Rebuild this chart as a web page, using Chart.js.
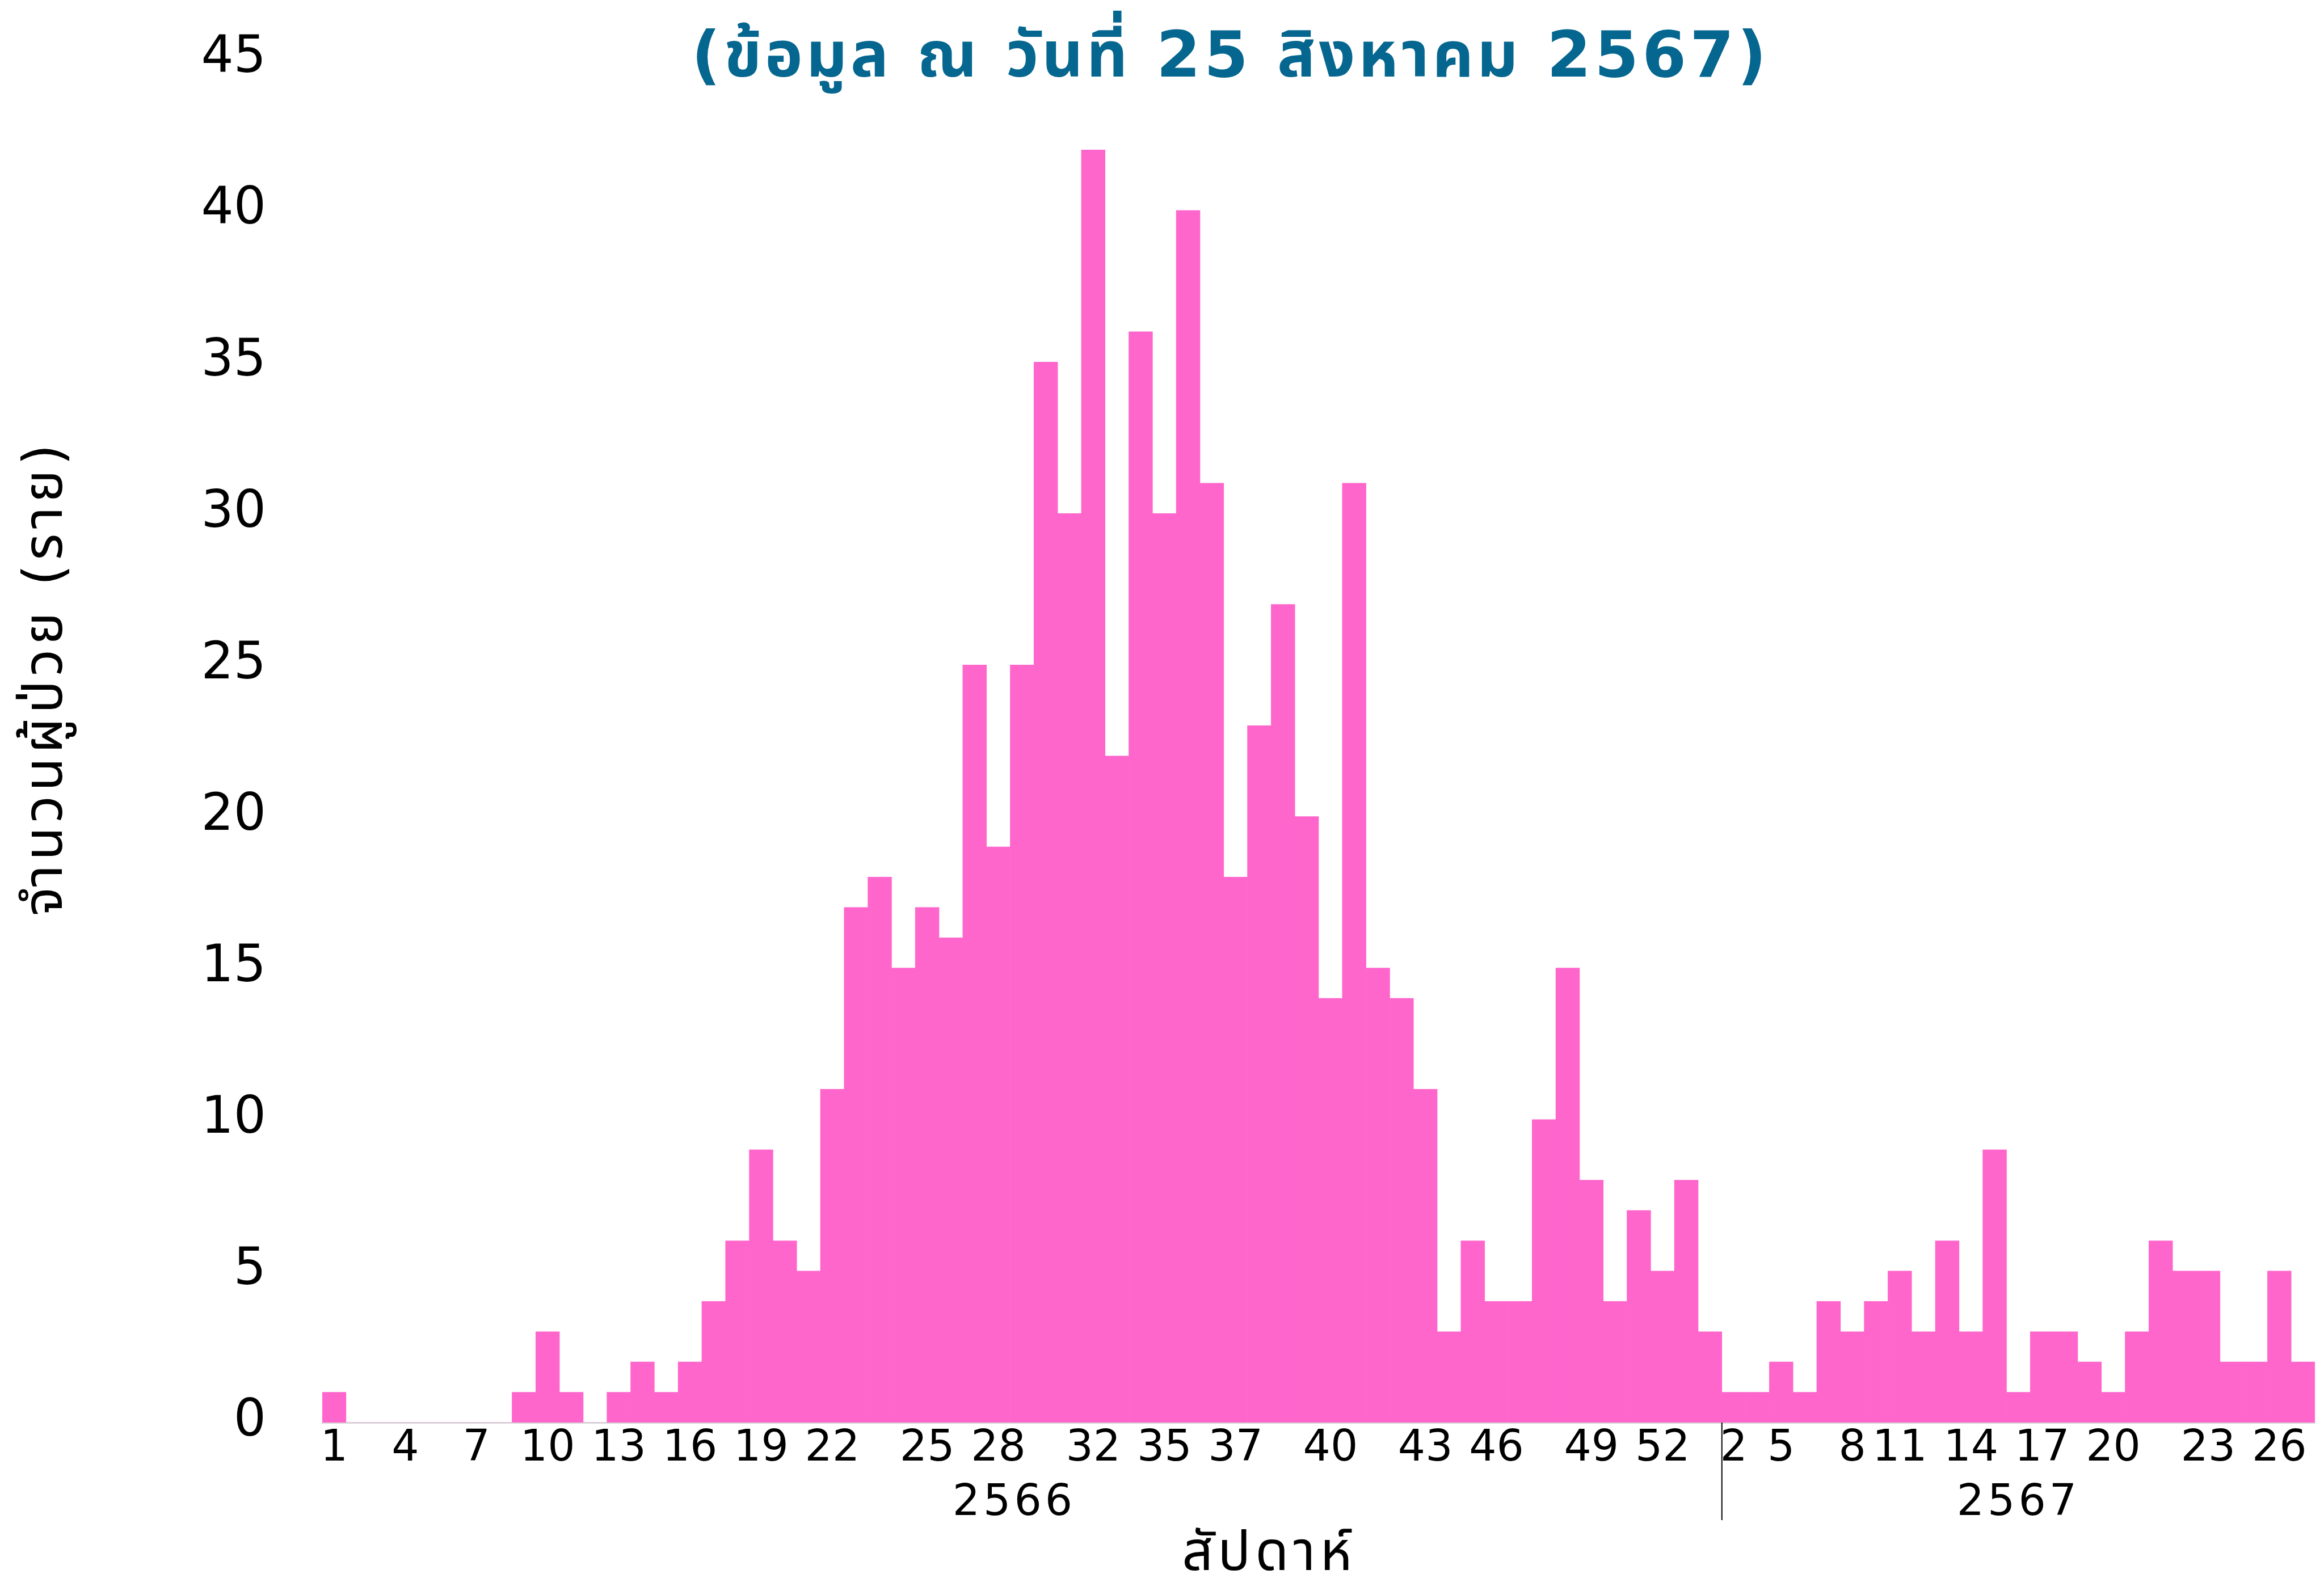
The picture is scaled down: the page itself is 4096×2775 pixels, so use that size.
<!DOCTYPE html>
<html>
<head>
<meta charset="utf-8">
<title>จำนวนผู้ป่วยรายสัปดาห์</title>
<script src="https://cdn.jsdelivr.net/npm/chart.js@4.4.1/dist/chart.umd.min.js"></script>
<style>
	html, body { margin: 0; padding: 0; background: #ffffff; }
	#wrap { width: 4096px; height: 2775px; }
</style>
</head>
<body>
<div id="wrap"><canvas id="barChart"></canvas></div>
<script>
// week labels shown under the bars ('' = no label for that week)
const weeks2566 = [
	'1', '', '', '4', '', '', '7', '',
	'', '10', '', '', '13', '', '', '16',
	'', '', '19', '', '', '22', '', '',
	'', '25', '', '', '28', '', '', '',
	'32', '', '', '35', '', '', '37', '',
	'', '', '40', '', '', '', '43', '',
	'', '46', '', '', '', '49', '', '',
	'52', '', ''
];
const cases2566 = [
	1, 0, 0, 0, 0, 0, 0, 0,
	1, 3, 1, 0, 1, 2, 1, 2,
	4, 6, 9, 6, 5, 11, 17, 18,
	15, 17, 16, 25, 19, 25, 35, 30,
	42, 22, 36, 30, 40, 31, 18, 23,
	27, 20, 14, 31, 15, 14, 11, 3,
	6, 4, 4, 10, 15, 8, 4, 7,
	5, 8, 3
];
const weeks2567 = [
	'2', '', '5', '', '', '8', '', '11',
	'', '', '14', '', '', '17', '', '',
	'20', '', '', '', '23', '', '', '26',
	''
];
const cases2567 = [
	1, 1, 2, 1, 4, 3, 4, 5,
	3, 6, 3, 9, 1, 3, 3, 2,
	1, 3, 6, 5, 5, 2, 2, 5,
	2
];
const years = ['2566', '2567'];
const yMax = 45, yStep = 5;

const chartTitle = '(ข้อมูล ณ วันที่ 25 สิงหาคม 2567)';
const yTitle = 'จำนวนผู้ป่วย (ราย)';
const xTitle = 'สัปดาห์';

const FONT = "'DejaVu Sans', 'Noto Sans Thai', 'Noto Sans', sans-serif";
Chart.defaults.font.family = FONT;
Chart.defaults.color = '#000000';

// year group labels, divider and titles drawn on top of the chart
const extraText = {
	id: 'extraText',
	afterDraw(chart) {
		const { ctx, chartArea } = chart;
		const x = chart.scales.x;
		const half = (x.getPixelForValue(1) - x.getPixelForValue(0)) / 2;
		const groups = [cases2566.length, cases2567.length];

		ctx.save();
		ctx.fillStyle = '#000000';
		ctx.textAlign = 'center';
		ctx.textBaseline = 'alphabetic';
		ctx.font = '76px ' + FONT;
		ctx.letterSpacing = '6px';

		let start = 0;
		groups.forEach((n, i) => {
			const left = x.getPixelForValue(start) - half;
			const right = x.getPixelForValue(start + n - 1) + half;
			ctx.fillText(years[i], (left + right) / 2 - (i === 0 ? 14 : 0), 2671);
			if (i > 0) {
				ctx.strokeStyle = '#000000';
				ctx.lineWidth = 2;
				ctx.beginPath();
				ctx.moveTo(left, chartArea.bottom);
				ctx.lineTo(left, 2680);
				ctx.stroke();
			}
			start += n;
		});

		// x axis title
		ctx.font = '96px ' + FONT;
		ctx.letterSpacing = '8px';
		ctx.fillText(xTitle, 2237, 2768);

		// y axis title
		ctx.save();
		ctx.translate(84, 1195);
		ctx.rotate(-Math.PI / 2);
		ctx.textBaseline = 'middle';
		ctx.font = '96px ' + FONT;
		ctx.letterSpacing = '8px';
		ctx.fillText(yTitle, 0, 0);
		ctx.restore();

		// chart title
		ctx.fillStyle = '#05668f';
		ctx.textBaseline = 'middle';
		ctx.font = 'bold 112px ' + FONT;
		ctx.letterSpacing = '6px';
		ctx.fillText(chartTitle, 2169, 106);
		ctx.restore();
	}
};

new Chart(document.getElementById('barChart'), {
	type: 'bar',
	data: {
		labels: weeks2566.concat(weeks2567),
		datasets: [{
			label: 'ผู้ป่วย',
			data: cases2566.concat(cases2567),
			backgroundColor: '#ff66cc',
			borderWidth: 0,
			barPercentage: 1,
			categoryPercentage: 1
		}]
	},
	options: {
		responsive: true,
		maintainAspectRatio: false,
		devicePixelRatio: 1,
		animation: false,
		layout: {
			padding: { top: 104, right: 16, bottom: 0, left: 0 }
		},
		scales: {
			x: {
				grid: { display: false, drawTicks: false, tickLength: 0 },
				border: { display: true, color: '#d9d9d9', width: 3 },
				ticks: {
					autoSkip: false,
					maxRotation: 0,
					minRotation: 0,
					padding: 2,
					color: '#000000',
					font: { size: 76 }
				},
				afterFit(scale) { scale.height = 267; }
			},
			y: {
				min: 0,
				max: yMax,
				grid: { display: false, drawTicks: false, tickLength: 0 },
				border: { display: false },
				ticks: {
					stepSize: yStep,
					padding: 99,
					color: '#000000',
					font: { size: 90 }
				},
				afterFit(scale) {
					// the big label gap should not push the plot down
					scale.width = 568;
					scale.paddingTop = 0;
					scale.paddingBottom = 0;
				}
			}
		},
		plugins: {
			legend: { display: false },
			tooltip: { enabled: false },
			title: { display: false }
		}
	},
	plugins: [extraText]
});
</script>
</body>
</html>
